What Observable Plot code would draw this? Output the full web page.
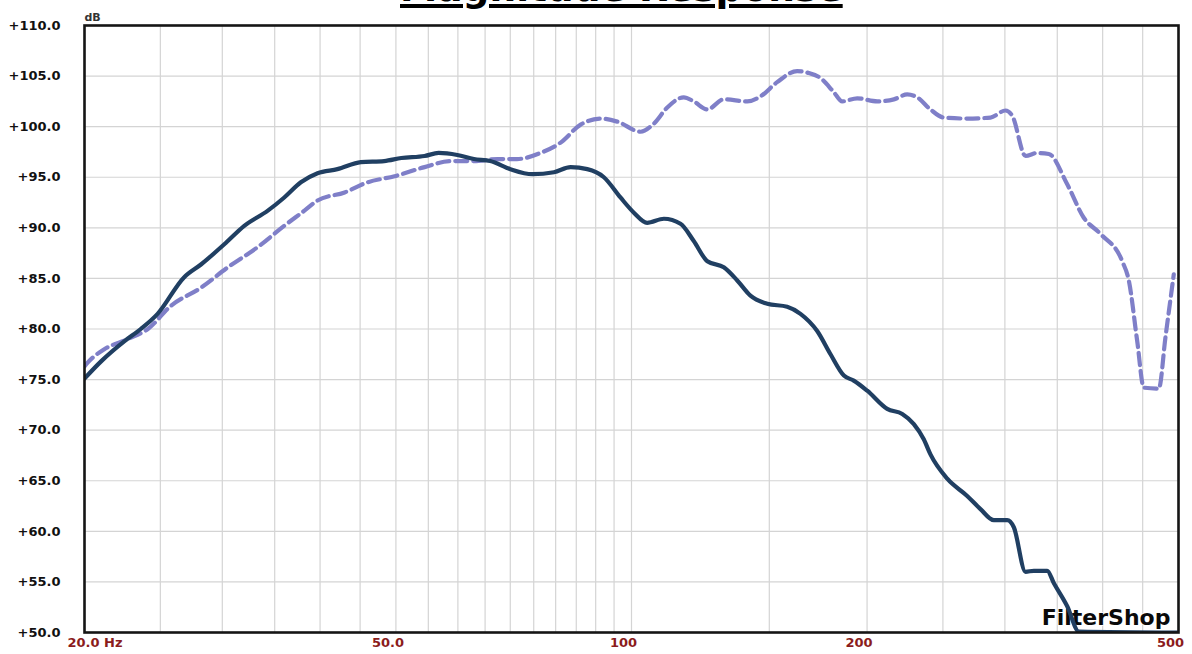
<!DOCTYPE html>
<html>
<head>
<meta charset="utf-8">
<script src="https://cdn.jsdelivr.net/npm/d3@7"></script>
<script src="https://cdn.jsdelivr.net/npm/@observablehq/plot@0.6"></script>
<style>
  html, body { margin: 0; padding: 0; background: #fff; overflow: hidden; }
  body { position: relative; width: 1192px; height: 654px; font-family: "DejaVu Sans", Verdana, sans-serif; }
  #title {
    position: absolute; left: 400px; top: -30px; width: 446px;
    font-size: 37.5px; line-height: 37px; font-weight: bold; color: #000;
    white-space: nowrap; text-decoration: underline;
    text-decoration-thickness: 3.5px; text-underline-offset: 2.5px;
  }
  #chart svg { display: block; }
</style>
</head>
<body>
<div id="chart"></div>
<div id="title">Magnitude Response</div>
<script>
// Solid curve (dark navy): frequency (Hz) and level (dB)
const solidFreq = [20.0, 21.0, 22.5, 23.6, 24.8, 26.8, 28.2, 30.2, 32.0, 34.3, 36.0, 37.8, 39.7, 42.1, 45.1, 48.3, 50.8, 54.4, 56.7, 59.9, 62.9, 66.0, 70.0, 74.7, 79.6, 83.6, 87.8, 92.2, 96.8, 100.7, 104.7, 110.0, 115.5, 120.1, 125.0, 131.2, 136.5, 141.9, 149.1, 158.1, 164.4, 172.7, 179.6, 186.8, 192.3, 200.1, 212.2, 221.8, 229.5, 236.3, 241.0, 253.2, 268.5, 279.2, 290.4, 302.1, 308.0, 318.8, 326.6, 339.8, 346.4, 360.4, 372.9, 500];
const solidDb   = [75.1, 76.8, 78.8, 80.0, 81.5, 85.1, 86.4, 88.4, 90.2, 91.7, 93.0, 94.5, 95.4, 95.8, 96.5, 96.6, 96.9, 97.1, 97.4, 97.2, 96.8, 96.6, 95.8, 95.3, 95.5, 96.0, 95.8, 95.0, 93.0, 91.5, 90.5, 90.9, 90.4, 88.7, 86.7, 86.1, 84.8, 83.3, 82.5, 82.2, 81.5, 79.8, 77.5, 75.4, 74.9, 73.9, 72.1, 71.6, 70.6, 69.1, 67.6, 65.2, 63.5, 62.2, 61.1, 61.1, 60.4, 56.0, 56.1, 56.1, 54.9, 52.6, 50.1, 50.0];

// Dashed curve (lavender): frequency (Hz) and level (dB)
const dashFreq = [20.0, 20.2, 21.2, 22.7, 24.1, 25.8, 28.2, 30.5, 33.3, 36.0, 38.2, 39.7, 43.0, 46.0, 49.8, 54.4, 58.7, 62.9, 67.4, 71.4, 76.5, 81.1, 86.1, 91.3, 95.9, 102.7, 106.8, 111.1, 116.6, 120.1, 125.0, 131.2, 140.6, 146.2, 153.5, 162.8, 168.5, 174.4, 181.4, 185.9, 194.3, 206.1, 216.4, 225.1, 231.8, 241.0, 250.6, 268.5, 287.6, 300.6, 306.5, 318.8, 329.9, 341.4, 360.4, 378.4, 397.5, 423.7, 432.0, 442.8, 451.5, 471.8, 481.2, 493.1];
const dashDb   = [76.3, 76.7, 78.0, 79.0, 80.0, 82.3, 84.1, 86.1, 88.1, 90.2, 91.7, 92.7, 93.5, 94.5, 95.1, 96.0, 96.6, 96.6, 96.8, 96.8, 97.4, 98.4, 100.2, 100.8, 100.5, 99.5, 100.3, 101.9, 102.9, 102.5, 101.7, 102.7, 102.5, 103.0, 104.4, 105.5, 105.3, 104.8, 103.4, 102.5, 102.8, 102.5, 102.7, 103.2, 102.9, 101.7, 100.9, 100.8, 100.9, 101.6, 101.1, 97.1, 97.4, 97.3, 94.3, 91.0, 89.4, 86.7, 84.8, 78.8, 74.2, 74.1, 79.2, 85.4];

// Axis ticks and labels
const yTicks = [50, 55, 60, 65, 70, 75, 80, 85, 90, 95, 100, 105, 110];
const xLabelTicks = [50, 100, 200, 500];
const xLabelText = {50: "50.0", 100: "100", 200: "200", 500: "500"};
const xFirstTick = [20];
const xFirstLabel = "20.0 Hz";
const xGridTicks = [20, 25, 30, 35, 40, 45, 50, 55, 60, 65, 70, 75, 80, 85, 90, 95, 100, 150, 200, 250, 300, 350, 400, 450, 500];
const yUnit = "dB";
const brand = "FilterShop";

const solid = solidFreq.map((f, i) => ({f, db: solidDb[i]}));
const dashed = dashFreq.map((f, i) => ({f, db: dashDb[i]}));

const labelRed = "#8b1c1c";

const plot = Plot.plot({
  width: 1192,
  height: 654,
  marginLeft: 84,
  marginRight: 14,
  marginTop: 25,
  marginBottom: 22,
  style: {fontFamily: "'DejaVu Sans', Verdana, sans-serif", background: "#fff"},
  x: {type: "log", domain: [20, 500]},
  y: {type: "linear", domain: [50, 110]},
  marks: [
    Plot.gridX(xGridTicks, {stroke: "#d4d4d4", strokeOpacity: 1, strokeWidth: 1.2}),
    Plot.gridY(yTicks, {stroke: "#d4d4d4", strokeOpacity: 1, strokeWidth: 1.2}),
    Plot.axisY(yTicks, {
      tickSize: 0, tickPadding: 24, label: null,
      tickFormat: d => "+" + d.toFixed(1),
      fontSize: 13, fontWeight: "bold", fill: "#111"
    }),
    Plot.axisX(xFirstTick, {
      tickSize: 0, tickPadding: 5, label: null,
      tickFormat: () => xFirstLabel, textAnchor: "start", dx: -17,
      fontSize: 13, fontWeight: "bold", fill: labelRed
    }),
    Plot.axisX(xLabelTicks, {
      tickSize: 0, tickPadding: 5, label: null,
      tickFormat: d => xLabelText[d], dx: -8,
      fontSize: 13, fontWeight: "bold", fill: labelRed
    }),
    Plot.text([yUnit], {
      frameAnchor: "top-left", textAnchor: "start", dy: -12, dx: 0,
      fontSize: 11, fontWeight: "bold", fill: "#333"
    }),
    Plot.text([brand], {
      frameAnchor: "bottom-right", textAnchor: "end", lineAnchor: "bottom",
      dx: -8, dy: -8, fontSize: 22, fontWeight: 900, fill: "#0a0a0a",
      stroke: "#fff", strokeWidth: 1.5, paintOrder: "stroke"
    }),
    Plot.line(dashed, {
      x: "f", y: "db", stroke: "#7f7fc8", strokeWidth: 4.2,
      strokeDasharray: "12,6", curve: "monotone-x", clip: true
    }),
    Plot.line(solid, {
      x: "f", y: "db", stroke: "#203f62", strokeWidth: 4.2,
      curve: "monotone-x", clip: true
    }),
    Plot.frame({stroke: "#151515", strokeWidth: 2.6})
  ]
});
document.getElementById("chart").appendChild(plot);
</script>
</body>
</html>
